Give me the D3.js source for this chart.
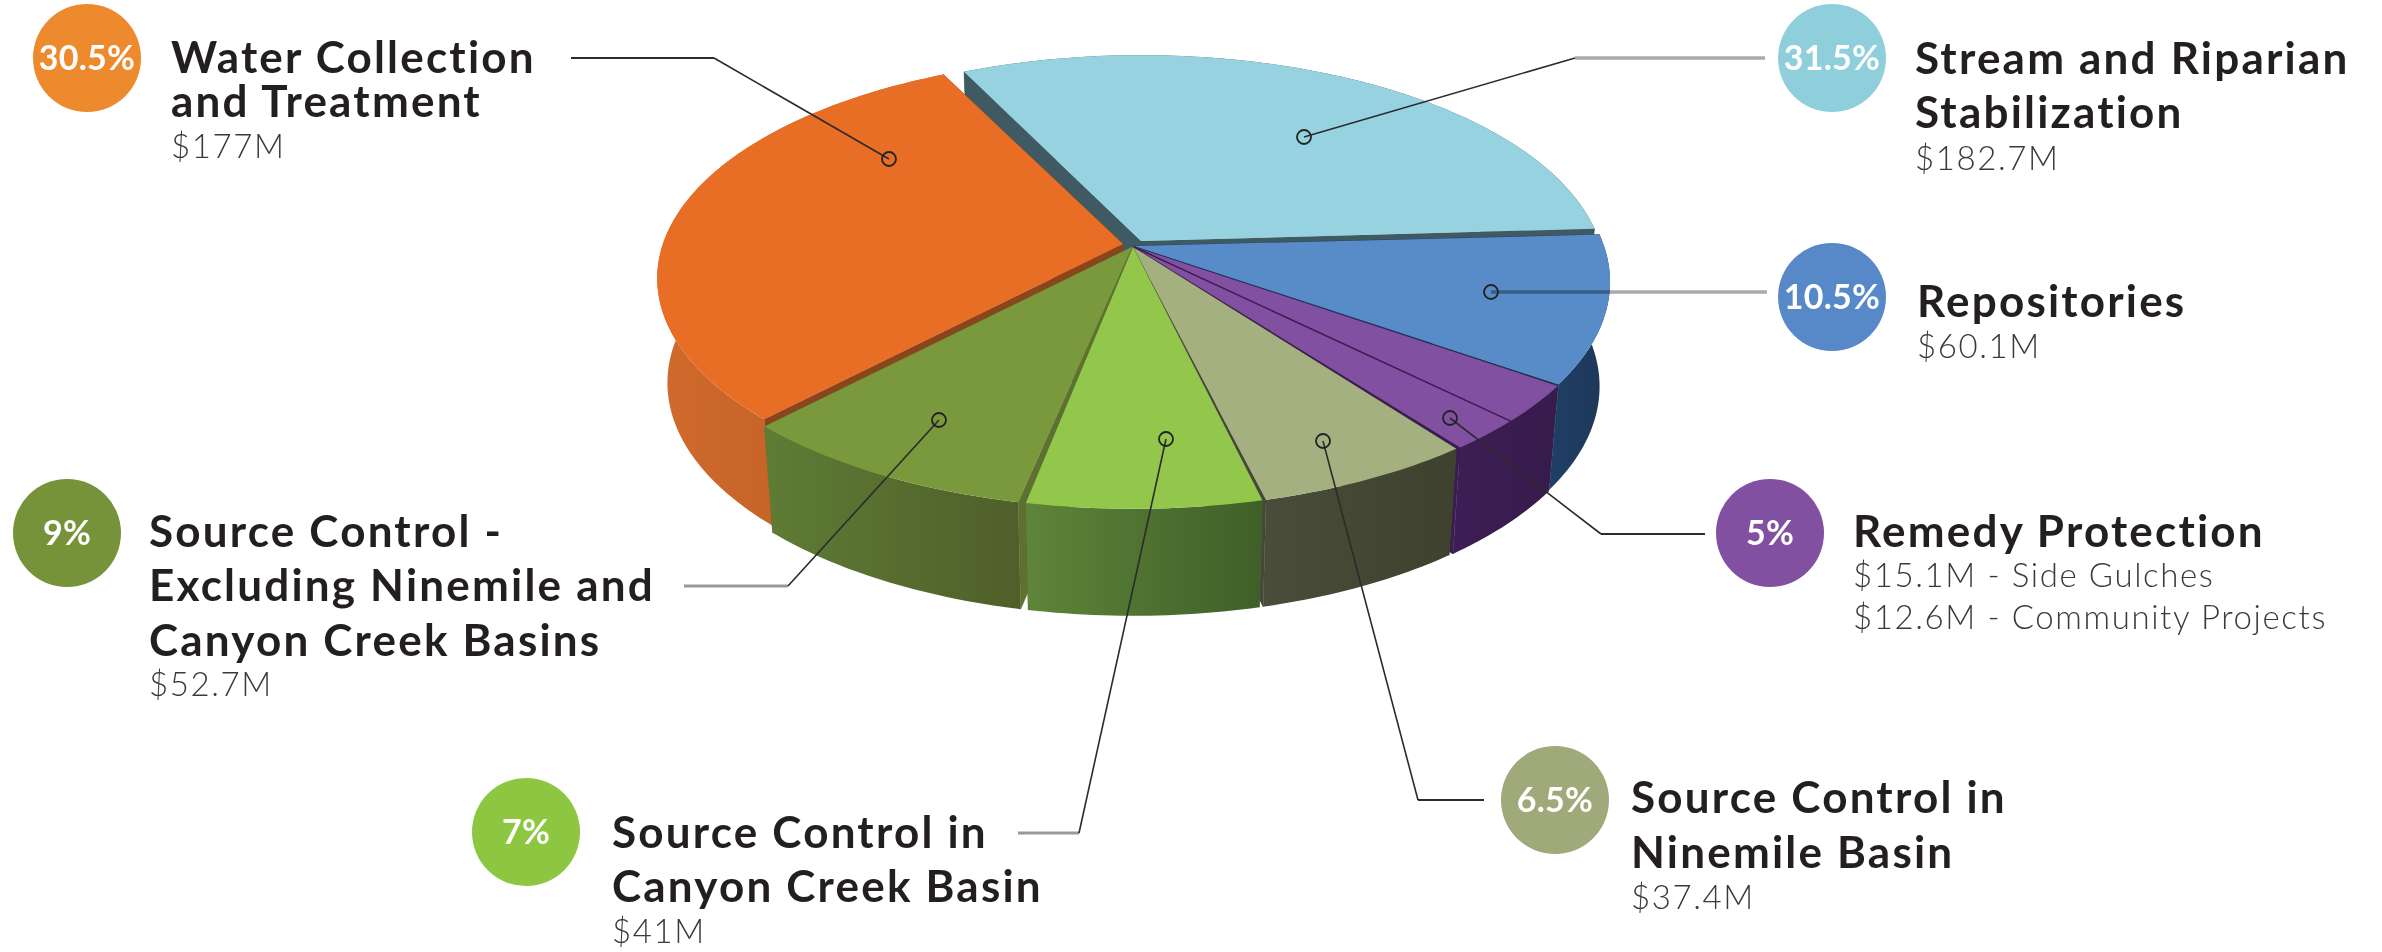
<!DOCTYPE html>
<html><head><meta charset="utf-8">
<style>html,body{margin:0;padding:0;background:#fff}svg{display:block}
text{font-family:Lato,"Open Sans",sans-serif}</style>
<script src="https://cdn.jsdelivr.net/npm/d3@7/dist/d3.min.js"></script></head><body>
<svg id="c" width="2382" height="952"></svg>
<script>
// ---- data ----
const categories = ["Stream and Riparian Stabilization","Repositories","Remedy Protection","Source Control in Ninemile Basin","Source Control in Canyon Creek Basin","Source Control - Excluding Ninemile and Canyon Creek Basins","Water Collection and Treatment"];
const percents = [31.5,10.5,5,6.5,7,9,30.5];
const percentLabels = ["31.5%","10.5%","5%","6.5%","7%","9%","30.5%"];
const titleLines = [["Stream and Riparian","Stabilization"],["Repositories"],["Remedy Protection"],["Source Control in","Ninemile Basin"],["Source Control in","Canyon Creek Basin"],["Source Control -","Excluding Ninemile and","Canyon Creek Basins"],["Water Collection","and Treatment"]];
const amountLines = [["$182.7M"],["$60.1M"],["$15.1M - Side Gulches","$12.6M - Community Projects"],["$37.4M"],["$41M"],["$52.7M"],["$177M"]];
const remedyParts = [15.1,12.6];

// ---- styles and layout ----
const faceColor = ["#96d2e0","#578cc8","#8250a0","#a5b080","#92c74c","#7a983c","#e86e26"];
const badgeColor = ["#8fcfdc","#5788c8","#8150a0","#9fa97a","#8dc641","#76933a","#ee8a2e"];
const wallColor = ["#3f5a62","#1c3a5e","#3b1c50","#45473a","#4f6b30","#5e7132","#8a451c"];
const sideColor = [["#3f5a62","#3f5a62"],["#1f3f66","#1f3757"],["#3d1e55","#371b4c"],["#4a4d3a","#3e412d"],["#5e853a","#3f5f28"],["#5f7c35","#4f5f2a"],["#d06a2c","#b95a22"]];
const offset = [[8,-6],[1,-1],[1,0],[0,0],[0,0],[-1,0],[-10,-3]];
const radiusScale = [.975,1,1,1,1,1,.979];
const insetDeg = [[.3,.3],[0,0],[.2,.1],[.3,.05],[.35,.3],[.4,0],[0,0]];
const paintOrder = [0,1,6,2,5,3,4];
const badge = [[1832,58],[1832,297],[1770,533],[1555,800],[526,832],[67,533],[87,58]];
const badgeR = 54;
const textX = [1915,1917,1853,1631,612,149,171];
const titleY = [[74,128],[317],[547],[813,868],[848,902],[547,601,656],[73,117]];
const amountY = [[170],[358],[587,629],[909],[943],[696],[158]];
const leaders = [
 [[1304,137],[1575,58],[1765,58]],
 [[1491,292],[1491,292],[1767,292]],
 [[1450,418],[1601,534],[1705,534]],
 [[1323,441],[1418,800],[1484,800]],
 [[1166,439],[1079,833],[1018,833]],
 [[939,420],[788,586],[684,586]],
 [[889,159],[714,58],[571,58]]];
const leaderRunColor = ["#aaa","#aaa","#2b2b2b","#2b2b2b","#999","#999","#2b2b2b"];
const leaderRunWidth = [3.5,3.5,2,2,3,3,2];

// ---- perspective disc projection ----
const cx=1133, D=470, A=247, B=180.9, C=-.159;
const rad=d=>d*Math.PI/180;
function topP(a,o=[0,0],r=1){const u=r*Math.sin(a),v=-r*Math.cos(a),w=1+C*v;
  return [cx+D*u/w+o[0],(A+B*v)/w+o[1],v];}
function botP(a,o=[0,0],r=1){const p=topP(a,[0,0],r);
  return [cx+(p[0]-cx)*.978+o[0],p[1]+104+3*p[2]+o[1]];}
const line=d3.line().x(d=>d[0]).y(d=>d[1]);
const arcs=d3.pie().sort(null).value(d=>d).startAngle(rad(-26.4)).endAngle(rad(333.6))(percents);
const samples=(s,e)=>{const n=Math.max(4,Math.ceil((e-s)/rad(1)));return d3.range(n+1).map(i=>s+(e-s)*i/n);};

const svg=d3.select("#c"), defs=svg.append("defs");
sideColor.forEach((c,i)=>{const g=defs.append("linearGradient").attr("id","s"+i).attr("x1",0).attr("x2",1).attr("y1",0).attr("y2",0);
  g.append("stop").attr("offset",0).attr("stop-color",c[0]);g.append("stop").attr("offset",1).attr("stop-color",c[1]);});

const pie=svg.append("g");
paintOrder.forEach(i=>{
  const d=arcs[i],o=offset[i],r=radiusScale[i],s=d.startAngle+rad(insetDeg[i][0]),e=d.endAngle-rad(insetDeg[i][1]);
  const G=pie.append("g");
  const as=samples(s,e);
  // radial walls
  [s,e].forEach(a=>{
    G.append("path").attr("fill",wallColor[i]).attr("stroke",wallColor[i]).attr("stroke-width",.5)
     .attr("d",line([topP(a,o,r),topP(0,o,0),botP(0,o,0),botP(a,o,r)])+"Z");
  });
  // outer wall
  G.append("path").attr("fill",`url(#s${i})`)
   .attr("d",line(as.map(a=>topP(a,o,r)).concat(as.slice().reverse().map(a=>botP(a,o,r))))+"Z");
  // top face
  G.append("path").attr("fill",faceColor[i])
   .attr("d",line([topP(0,o,0)].concat(as.map(a=>topP(a,o,r))))+"Z");
});
// dividing line inside Remedy Protection
{const d=arcs[2],a=d.startAngle+(d.endAngle-d.startAngle)*remedyParts[0]/d3.sum(remedyParts);
 pie.append("path").attr("stroke","#3b1c50").attr("stroke-width",1.5).attr("fill","none")
  .attr("d",line([topP(0,offset[2],0),topP(a,offset[2])]));}

// leaders: thin diagonal, then a horizontal run, then the open dot on the slice
leaders.forEach((l,i)=>{
  svg.append("path").attr("d",line(l.slice(0,2))).attr("fill","none").attr("stroke","#2b2b2b").attr("stroke-width",1.6);
  svg.append("path").attr("d",line(l.slice(1))).attr("fill","none").attr("stroke",leaderRunColor[i])
    .attr("stroke-width",leaderRunWidth[i]).style("mix-blend-mode","multiply");
  svg.append("circle").attr("cx",l[0][0]).attr("cy",l[0][1]).attr("r",7).attr("fill","none").attr("stroke","#222").attr("stroke-width",1.8);
});
// badges & labels
categories.forEach((c,i)=>{
  svg.append("circle").attr("cx",badge[i][0]).attr("cy",badge[i][1]).attr("r",badgeR).attr("fill",badgeColor[i]);
  svg.append("text").attr("x",badge[i][0]).attr("y",badge[i][1]+12).attr("text-anchor","middle")
    .attr("fill","#fff").attr("font-size",34).attr("font-weight",700).attr("letter-spacing",.3).text(percentLabels[i]);
  titleLines[i].forEach((t,j)=>svg.append("text").attr("x",textX[i]).attr("y",titleY[i][j])
    .attr("fill","#231f20").attr("font-size",44).attr("font-weight",700).attr("letter-spacing",2.2).text(t));
  amountLines[i].forEach((t,j)=>svg.append("text").attr("x",textX[i]).attr("y",amountY[i][j])
    .attr("fill","#3a3a3a").attr("font-size",33).attr("font-weight",300).attr("letter-spacing",1.6).text(t));
});
</script></body></html>
